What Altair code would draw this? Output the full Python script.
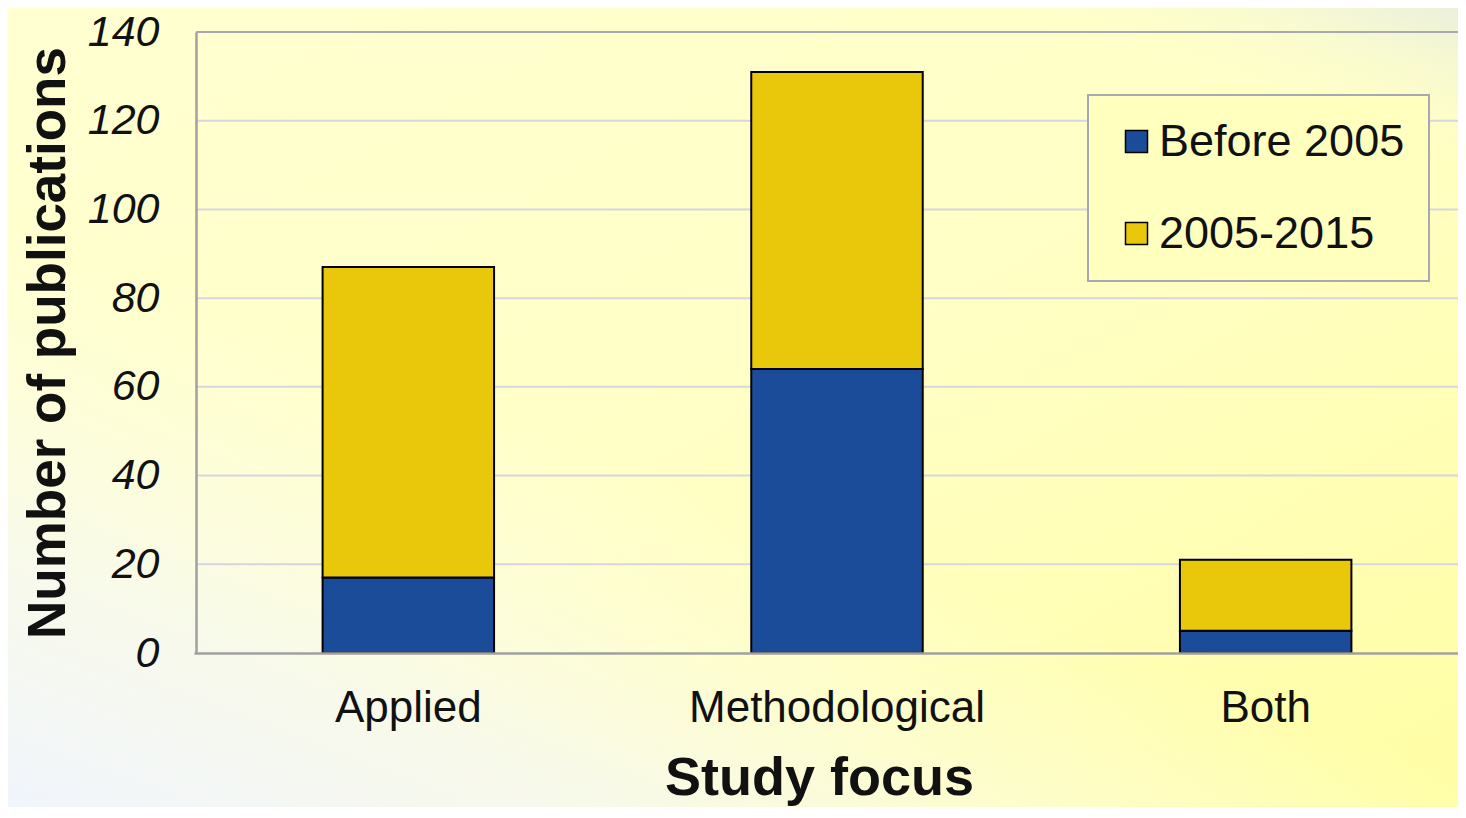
import altair as alt
import pandas as pd

categories = ["Applied", "Methodological", "Both"]
series = ["Before 2005", "2005-2015"]
before_2005 = [17, 64, 5]
y2005_2015 = [70, 67, 16]
y_ticks = [0, 20, 40, 60, 80, 100, 120, 140]
colors = ["#1B4C9A", "#E9C70B"]

rows = []
for c, b, a in zip(categories, before_2005, y2005_2015):
    rows.append({"focus": c, "period": series[0], "n": b, "rank": 0})
    rows.append({"focus": c, "period": series[1], "n": a, "rank": 1})
df = pd.DataFrame(rows)

W, H = 1262, 621
PB = 154
FONT = "Liberation Sans"

y_scale = alt.Scale(domain=[0, 140], nice=False)
y_axis = alt.Axis(
    title="Number of publications", values=y_ticks, ticks=False, tickSize=0,
    labelFontSize=43, labelFont=FONT, labelFontStyle="italic", labelColor="#111111",
    labelPadding=37, labelBaseline="middle", labelLimit=0,
    domainColor="#A0A0A0", domainWidth=2.5,
    titleFont=FONT, titleFontSize=53,
    titleFontWeight="bold", titleColor="#111111", titleAngle=-90,
    titleBaseline="alphabetic", titleX=-132, titleY=H / 2, titleAlign="center",
    titleLimit=0, zindex=1, grid=False,
)

one = pd.DataFrame({"a": [0]})


def bg_rect(grad):
    return alt.Chart(one).mark_rect(fill=grad, strokeWidth=0).encode(
        x=alt.value(-188), x2=alt.value(W), y=alt.value(-24), y2=alt.value(H + PB)
    )


bg1 = bg_rect(alt.LinearGradient(
    gradient="linear", x1=0, y1=0, x2=1, y2=1,
    stops=[
        alt.GradientStop(offset=0, color="#FFFFD2"),
        alt.GradientStop(offset=0.5, color="#FFFFC6"),
        alt.GradientStop(offset=1, color="#FFFEA4"),
    ],
))
bg2 = bg_rect(alt.LinearGradient(
    gradient="linear", x1=0, y1=1, x2=0.35, y2=0.5,
    stops=[
        alt.GradientStop(offset=0, color="rgba(240,245,252,1)"),
        alt.GradientStop(offset=0.4, color="rgba(246,248,245,0.8)"),
        alt.GradientStop(offset=1, color="rgba(255,255,235,0)"),
    ],
))
bg3 = bg_rect(alt.LinearGradient(
    gradient="linear", x1=1, y1=0, x2=0.9, y2=0.15,
    stops=[
        alt.GradientStop(offset=0, color="rgba(232,238,222,0.9)"),
        alt.GradientStop(offset=1, color="rgba(255,255,210,0)"),
    ],
))

grid_df = pd.DataFrame({"n": [t for t in y_ticks if 0 < t < max(y_ticks)]})
grid = alt.Chart(grid_df).mark_rule(color="#D6D6E0", strokeWidth=2).encode(
    y=alt.Y("n:Q", scale=y_scale, axis=y_axis)
)
top = alt.Chart(one).mark_rule(color="#A8A8B0", strokeWidth=2).encode(
    x=alt.value(0), x2=alt.value(W), y=alt.value(0)
)

bars = alt.Chart(df).mark_bar(stroke="black", strokeWidth=2).encode(
    x=alt.X(
        "focus:N", sort=categories,
        scale=alt.Scale(range=[-2, 1284], paddingInner=0.6, paddingOuter=0.3),
        axis=alt.Axis(
            title="Study focus", labelAngle=0, ticks=False, tickSize=0,
            labelFontSize=44, labelFont=FONT, labelColor="#111111",
            labelBaseline="alphabetic", labelPadding=68, labelLimit=0,
            domainColor="#A0A0A0", domainWidth=2.5,
            titleFont=FONT, titleFontSize=54, titleFontWeight="bold", titleColor="#111111",
            titleBaseline="alphabetic", titleX=623, titleY=141, titleAnchor="middle",
            zindex=1, grid=False,
        ),
    ),
    y=alt.Y("n:Q", stack="zero", scale=y_scale, axis=y_axis),
    color=alt.Color(
        "period:N",
        scale=alt.Scale(domain=series, range=colors),
        legend=alt.Legend(
            title=None, orient="none", legendX=892, legendY=63,
            symbolType="square", symbolSize=484, symbolStrokeColor="black",
            symbolStrokeWidth=1.5, symbolOpacity=1, symbolOffset=2,
            labelFont=FONT, labelFontSize=45, labelColor="#111111", labelOffset=0,
            labelLimit=0, rowPadding=46, padding=24,
            fillColor="#FFFFBE", strokeColor="#A8A8B0",
            zindex=1,
        ),
    ),
    order=alt.Order("rank:Q", sort="ascending"),
)

chart = alt.layer(bg1, bg2, bg3, grid, top, bars).properties(
    width=W, height=H,
    autosize=alt.AutoSizeParams(type="none"),
    padding={"left": 188, "top": 24, "right": 0, "bottom": PB},
    background="#FFFFC8",
).configure_view(stroke=None).configure_legend(strokeWidth=2)

chart.save("out.html", embed_options={"renderer": "svg", "actions": False})
